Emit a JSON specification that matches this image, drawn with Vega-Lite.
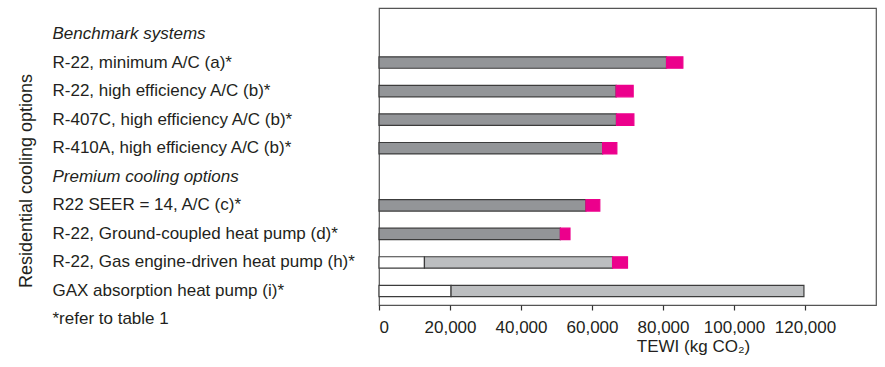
{
  "$schema": "https://vega.github.io/schema/vega-lite/v6.json",
  "width": 497,
  "height": 297,
  "padding": {"left": 18, "top": 8, "right": 9, "bottom": 5},
  "config": {
    "font": "Liberation Sans",
    "view": {"stroke": "#555555", "strokeWidth": 1.2},
    "axis": {"grid": false}
  },
  "title": {
    "text": "Residential cooling options",
    "orient": "left",
    "anchor": "middle",
    "frame": "bounds",
    "fontSize": 18,
    "fontWeight": "normal",
    "color": "#231f20",
    "offset": 16
  },
  "data": {
    "values": [
      {"option": "Benchmark systems", "part": "header", "seg": 0, "value": 0},
      {"option": "R-22, minimum A/C (a)*", "part": "indirect", "seg": 1, "value": 81000},
      {"option": "R-22, minimum A/C (a)*", "part": "direct", "seg": 3, "value": 4600},
      {"option": "R-22, high efficiency A/C (b)*", "part": "indirect", "seg": 1, "value": 66800},
      {"option": "R-22, high efficiency A/C (b)*", "part": "direct", "seg": 3, "value": 4800},
      {"option": "R-407C, high efficiency A/C (b)*", "part": "indirect", "seg": 1, "value": 66900},
      {"option": "R-407C, high efficiency A/C (b)*", "part": "direct", "seg": 3, "value": 4900},
      {"option": "R-410A, high efficiency A/C (b)*", "part": "indirect", "seg": 1, "value": 63000},
      {"option": "R-410A, high efficiency A/C (b)*", "part": "direct", "seg": 3, "value": 4000},
      {"option": "Premium cooling options", "part": "header", "seg": 0, "value": 0},
      {"option": "R22 SEER = 14, A/C (c)*", "part": "indirect", "seg": 1, "value": 58300},
      {"option": "R22 SEER = 14, A/C (c)*", "part": "direct", "seg": 3, "value": 3900},
      {"option": "R-22, Ground-coupled heat pump (d)*", "part": "indirect", "seg": 1, "value": 51100},
      {"option": "R-22, Ground-coupled heat pump (d)*", "part": "direct", "seg": 3, "value": 2700},
      {"option": "R-22, Gas engine-driven heat pump (h)*", "part": "indirect-electric", "seg": 1, "value": 12800},
      {"option": "R-22, Gas engine-driven heat pump (h)*", "part": "indirect-gas", "seg": 2, "value": 53000},
      {"option": "R-22, Gas engine-driven heat pump (h)*", "part": "direct", "seg": 3, "value": 4200},
      {"option": "GAX absorption heat pump (i)*", "part": "indirect-electric", "seg": 1, "value": 20300},
      {"option": "GAX absorption heat pump (i)*", "part": "indirect-gas", "seg": 2, "value": 99400}
    ]
  },
  "mark": {"type": "bar", "orient": "horizontal"},
  "encoding": {
    "y": {
      "field": "option",
      "type": "nominal",
      "sort": null,
      "scale": {"paddingInner": 0.6, "paddingOuter": 0.5, "align": 0.71},
      "axis": {
        "ticks": false,
        "domain": false,
        "labelAlign": "left",
        "labelPadding": 327,
        "labelLimit": 340,
        "labelFontSize": 17,
        "labelColor": "#231f20",
        "labelFontStyle": {
          "condition": {"test": "datum.value === 'Benchmark systems' || datum.value === 'Premium cooling options'", "value": "italic"},
          "value": "normal"
        },
        "title": "*refer to table 1",
        "titleAngle": 0,
        "titleAlign": "left",
        "titleBaseline": "middle",
        "titleX": -327,
        "titleY": 310,
        "titleFontSize": 17,
        "titleFontWeight": "normal",
        "titleColor": "#231f20"
      }
    },
    "x": {
      "field": "value",
      "type": "quantitative",
      "stack": "zero",
      "scale": {"domain": [0, 140000], "nice": false},
      "axis": {
        "values": [0, 20000, 40000, 60000, 80000, 100000, 120000],
        "format": ",.0f",
        "domain": false,
        "ticks": true,
        "tickSize": 5,
        "tickWidth": 1.2,
        "tickColor": "#333333",
        "labelFontSize": 17,
        "labelColor": "#231f20",
        "labelPadding": 9,
        "title": "TEWI (kg CO₂)",
        "titleFontSize": 17,
        "titleFontWeight": "normal",
        "titleColor": "#231f20",
        "titleX": 314,
        "titlePadding": 3
      }
    },
    "order": {"field": "seg", "type": "quantitative"},
    "color": {
      "field": "part",
      "type": "nominal",
      "scale": {
        "domain": ["indirect", "indirect-electric", "indirect-gas", "direct", "header"],
        "range": ["#939598", "#ffffff", "#bcbec0", "#ec008c", "transparent"]
      },
      "legend": null
    },
    "stroke": {
      "condition": {"test": "datum.part === 'direct'", "value": "#ec008c"},
      "value": "#3c3c3c"
    },
    "strokeWidth": {
      "condition": {"test": "datum.part === 'header'", "value": 0},
      "value": 1.2
    },
    "opacity": {"value": 1}
  }
}
